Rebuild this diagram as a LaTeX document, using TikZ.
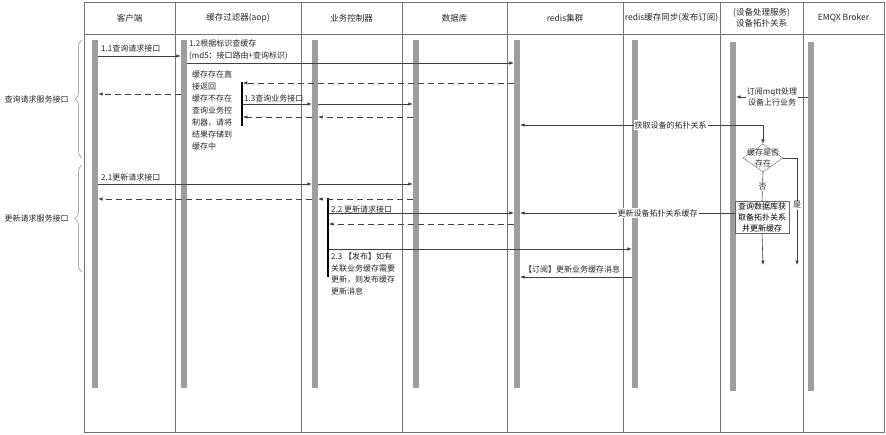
\documentclass[tikz,border=0pt]{standalone}
\usepackage{fontspec}
\setmainfont{Noto Sans CJK SC}
\usetikzlibrary{positioning,arrows.meta,shapes.geometric,decorations.pathreplacing}

\tikzset{
  lifebar/.style={fill=black!38, draw=none, minimum width=6pt, inner sep=0pt},
  actbar/.style={fill=black, draw=none, minimum width=1.3pt, inner sep=0pt},
  head/.style={font=\fontsize{8.5}{11}\selectfont, align=center, text=black!85},
  lab/.style={font=\fontsize{8}{11.5}\selectfont, align=left, inner sep=1pt, text=black!85},
  msg/.style={draw=black!75, line width=0.6pt, -{Latex[length=4.5pt,width=3.5pt]}},
  ret/.style={msg, dash pattern=on 6pt off 4pt},
  frame/.style={draw=black!55, line width=0.7pt},
  grp/.style={draw=black!35, line width=0.7pt, decorate, decoration={brace,amplitude=7pt}},
  decide/.style={diamond, draw=black!60, fill=white, minimum width=40pt, minimum height=28pt, inner sep=0pt},
  proc/.style={draw=black!60, fill=white, minimum width=54pt, minimum height=32pt, inner sep=1pt,
    align=center, font=\fontsize{8}{11}\selectfont},
}

\begin{document}
\begin{tikzpicture}[x=1pt,y=-1pt]
  \useasboundingbox (0,0) rectangle (886,434);

  % --- swimlane frame and headers ---
  \draw[frame] (84,2) rectangle (884,432);
  \draw[frame] (84,34) -- (884,34);
  \foreach \x in {175,301,402,507,623,720,803} {
    \draw[frame] (\x,2) -- (\x,432);
  }
  \foreach \n/\xa/\xb/\t in {hcli/84/175/客户端, hflt/175/301/缓存过滤器(aop),
      hbiz/301/402/业务控制器, hdb/402/507/数据库, hrds/507/623/redis集群,
      hsyn/623/720/redis缓存同步(发布订阅), hmq/803/884/EMQX Broker} {
    \node[head] (\n) at ({(\xa+\xb)/2},18) {\t};
  }
  \node[head] (hdev) at (761.5,18) {(设备处理服务)\\设备拓扑关系};

  % --- lifelines ---
  \foreach \n/\x/\ya/\yb in {cli/95/40/388, flt/184/40/388, biz/315/40/388, db/416/40/388,
      rds/517/40/388, syn/635/40/388, dev/733/42/391, mq/811/42/391} {
    \node[lifebar, minimum height={\yb-\ya}] (\n) at (\x,{(\ya+\yb)/2}) {};
  }
  \node[actbar, minimum height=44] (act1) at (242,104) {};
  \node[actbar, minimum height=79] (act2) at (328,237.5) {};

  % --- query request ---
  \draw[msg] (cli.east |- 0,56) -- (flt.west |- 0,56);
  \node[lab, anchor=west] (l11) at (100,48) {1.1查询请求接口};
  \draw[msg] (flt.east |- 0,63) -- (rds.west |- 0,63);
  \node[lab, anchor=west] (l12) at (188,50) {1.2根据标识查缓存\\(md5：接口路由+查询标识)};
  \draw[ret] (rds.west |- 0,83) -- (act1.east |- 0,83);
  \draw[ret] (flt.west |- 0,94) -- (cli.east |- 0,94);
  \node[lab, anchor=west] (lhit) at (191,80.5) {缓存存在直\\接返回};
  \node[lab, anchor=west, font=\fontsize{8}{12}\selectfont] (lmiss) at (191,122)
    {缓存不存在\\查询业务控\\制器，请将\\结果存储到\\缓存中};
  \draw[msg] (act1.east |- 0,104) -- (biz.west |- 0,104);
  \draw[msg] (biz.east |- 0,104) -- (db.west |- 0,104);
  \node[lab, anchor=west] (l13) at (243,98) {1.3查询业务接口};
  \draw[ret] (db.west |- 0,117) -- (biz.east |- 0,117);
  \draw[ret] (biz.west |- 0,117) -- (act1.east |- 0,117);

  % --- device topology ---
  \draw[msg] (mq.west |- 0,97) -- (dev.east |- 0,97)
    node[lab, align=center, fill=white, pos=0.5, font=\fontsize{8}{11}\selectfont] (lmqtt) {订阅mqtt处理\\设备上行业务};
  \node[decide] (dia) at (763,158) {};
  \node[lab, align=center, font=\fontsize{8}{11}\selectfont] (ldia) at (dia.center) {缓存是否\\存在};
  \coordinate (turn) at (763,125);
  \draw[msg] (turn) -- (rds.east |- turn)
    node[lab, fill=white, pos=0.38] (ltopo) {获取设备的拓扑关系};
  \draw[msg] (turn) -- (dia.north);
  \node[proc] (upd) at (762,217) {查询数据库获\\取备拓扑关系\\并更新缓存};
  \draw[draw=black!75, line width=0.6pt] (dia.south) -- (upd.north)
    node[lab, fill=white, midway] (lno) {否};
  \coordinate (yesend) at (797,265);
  \coordinate (noend) at (763,265);
  \draw[msg] (dia.east) -| (yesend) node[lab, fill=white, pos=0.72] (lyes) {是};
  \draw[msg] (upd.south) -- (noend);
  \draw[msg] (upd.west |- 0,213) -- (rds.east |- 0,213)
    node[lab, fill=white, pos=0.36] (lcache) {更新设备拓扑关系缓存};

  % --- update request ---
  \draw[msg] (cli.east |- 0,184) -- (biz.west |- 0,184);
  \draw[msg] (biz.east |- 0,184) -- (db.west |- 0,184);
  \node[lab, anchor=west] (l21) at (100,177) {2.1更新请求接口};
  \draw[ret] (db.west |- 0,199) -- (biz.east |- 0,199);
  \draw[ret] (biz.west |- 0,199) -- (cli.east |- 0,199);
  \draw[msg] (act2.east |- 0,213) -- (rds.west |- 0,213);
  \node[lab, anchor=west] (l22) at (330,209) {2.2 更新请求接口};
  \draw[ret] (rds.west |- 0,224) -- (act2.east |- 0,224);
  \draw[msg] (act2.east |- 0,249) -- (syn.west |- 0,249);
  \node[lab, anchor=west, font=\fontsize{8}{11.7}\selectfont] (l23) at (330,274)
    {2.3 【发布】如有\\关联业务缓存需要\\更新，则发布缓存\\更新消息};
  \draw[msg] (syn.west |- 0,277) -- (rds.east |- 0,277);
  \node[lab] (lsub) at (572,269) {【订阅】更新业务缓存消息};

  % --- groups ---
  \draw[grp] (82,158) -- (82,40) node[lab, midway, left=12pt] (gq) {查询请求服务接口};
  \draw[grp] (82,272) -- (82,165) node[lab, midway, left=12pt] (gu) {更新请求服务接口};
\end{tikzpicture}
\end{document}
